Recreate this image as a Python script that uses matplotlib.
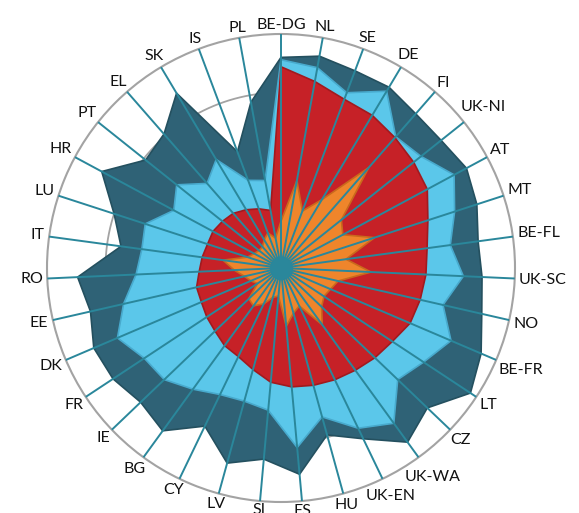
import numpy as np
import matplotlib.pyplot as plt

# categorias, en el sentido de las agujas del reloj desde arriba
labels = ['BE-DG', 'NL', 'SE', 'DE', 'FI', 'UK-NI', 'AT', 'MT', 'BE-FL', 'UK-SC',
          'NO', 'BE-FR', 'LT', 'CZ', 'UK-WA', 'UK-EN', 'HU', 'ES', 'SI', 'LV',
          'CY', 'BG', 'IE', 'FR', 'DK', 'EE', 'RO', 'IT', 'LU', 'HR',
          'PT', 'EL', 'SK', 'IS', 'PL']

# series (0-100)
outer = [90, 92, 90, 90, 87.5, 87.5, 90, 88, 85, 86,
         88, 93, 97, 86.5, 92, 81, 74, 88.5, 82, 86.5,
         75, 86, 83, 86, 87, 83.5, 87, 69, 75, 87,
         74, 76, 87, 53, 72]
blue = [89, 87, 80, 88, 74.5, 76.5, 84, 78, 73, 78,
        71, 79, 73, 69, 82, 76, 66, 77, 61, 59,
        60, 64, 69, 70, 76, 69, 62, 60, 61, 52,
        57, 48, 54, 40, 38]
red = [86, 81, 77, 76, 74, 72.5, 71, 66, 63, 62,
       61, 60, 57, 55.5, 54, 53, 52, 51, 49, 45,
       42, 41, 39, 38, 37, 37, 35, 34, 33, 33,
       32, 31, 29, 27, 25]
orange = [20, 38, 26, 34, 57, 33, 30, 42, 28, 38.5,
          25, 23, 22, 24, 30, 18, 20, 25, 12, 13,
          17, 20, 19, 12, 14, 16, 20, 25, 15, 13,
          12, 12, 14, 16, 13]

n = len(labels)
theta = np.arange(n) * 2 * np.pi / n

fig = plt.figure(figsize=(5.79, 5.13), dpi=100)
ax = fig.add_axes([47 / 579, 11 / 513, 468 / 579, 468 / 513], projection='polar')
ax.set_theta_zero_location('N')
ax.set_theta_direction(-1)
ax.set_ylim(0, 100)
ax.set_xticks([])
ax.set_yticks([])
ax.grid(False)
ax.spines['polar'].set_color('#a3a3a3')
ax.spines['polar'].set_linewidth(1.5)

ring = np.linspace(0, 2 * np.pi, 400)
ax.plot(ring, np.full_like(ring, 75), color='#a3a3a3', lw=1.3, zorder=1)

series = [(outer, '#2f6276', '#24505f'),
          (blue, '#5bc7ea', '#48aacd'),
          (red, '#c62127', '#a11a1f'),
          (orange, '#ef852b', '#c96a1c')]
t_closed = np.r_[theta, theta[0]]
for vals, fc, ec in series:
    v = np.r_[vals, vals[0]]
    ax.fill(t_closed, v, facecolor=fc, edgecolor=ec, lw=1.2, joinstyle='round', zorder=2)

for t in theta:
    ax.plot([t, t], [0, 100], color='#2a879b', lw=1.4, zorder=5)
ax.scatter([0], [0], s=250, color='#2a879b', zorder=6)

# etiquetas fuera del circulo
fig.canvas.draw()
rend = fig.canvas.get_renderer()
px = 100 / 234
for t, lab in zip(theta, labels):
    txt = ax.text(t, 0, lab, ha='center', va='center', fontsize=11.5,
                  family='Lato', color='#111111', clip_on=False)
    bb = txt.get_window_extent(renderer=rend)
    rp = 238 + 0.5 * (abs(np.sin(t)) * bb.width + abs(np.cos(t)) * bb.height * 0.7)
    txt.set_position((t, rp * px))

fig.savefig('out.png', dpi=100)
